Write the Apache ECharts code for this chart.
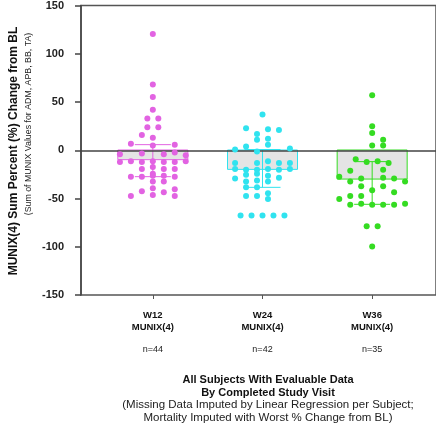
<!DOCTYPE html>
<html>
<head>
<meta charset="utf-8">
<script src="https://cdn.jsdelivr.net/npm/echarts@6/dist/echarts.min.js"></script>
<style>
html, body { margin: 0; padding: 0; background: #fff; }
#container { width: 436px; height: 433px; }
</style>
</head>
<body>
<div id="container"></div>
<script>
// visits and summary (median bar, interquartile whisker)
const visits = ['W12', 'W24', 'W36']
const measure = 'MUNIX(4)'
const nCounts = [44, 42, 35]
const medians = [-11, -21, -31]
const upperQ = [5, 0, -12.5]
const lowerQ = [-28, -39, -56.5]

// individual subjects, % change from BL; slots = swarm column
const w12Values = [119, 67, 54, 41, 32, 32, 23, 23, 15, 12, 6, 4, 5, -5, -4, -5, -3, -6,
    -13, -12, -13, -12, -13, -13, -12, -20, -18, -20, -20, -25, -28, -28, -27, -27, -28,
    -33, -33, -43, -40, -44, -41, -48, -47, -48]
const w12Slots = [0, 0, 0, 0, -0.5, 0.5, -0.5, 0.5, -1, 0, -2, 0, 2, -3, -1, 1, 2, 3,
    -3, -2, -1, 0, 1, 2, 3, -1, 0, 1, 2, 0, -2, -1, 0, 1, 2,
    0, 1, -1, 0, 1, 2, -2, 0, 2]

const w24Values = [36, 22, 21, 20, 16, 11, 10, 5, 3, 1, 0, -2,
    -14, -14, -12, -14, -14, -20, -21, -21, -20, -21, -20,
    -26, -25, -27, -29, -30, -33, -32, -33, -39, -39, -48, -48, -45, -51,
    -68, -68, -68, -68, -68]
const w24Slots = [0, -1.5, 0.5, 1.5, -0.5, 0.5, -0.5, 0.5, -1.5, 2.5, -2.5, -0.5,
    -2.5, -0.5, 0.5, 1.5, 2.5, -2.5, -1.5, -0.5, 0.5, 1.5, 2.5,
    -1.5, -0.5, 0.5, 1.5, -2.5, -1.5, -0.5, 0.5, -1.5, -0.5, -1.5, -0.5, 0.5, 0.5,
    -2, -1, 0, 1, 2]

const w36Values = [56, 24, 17, 10, 4, 4, -10, -13, -12, -14, -22, -21,
    -28, -33, -30, -29, -30, -33, -38, -38, -42, -44, -51, -48, -48,
    -57, -56, -57, -57, -57, -56, -79, -79, -100]
const w36Slots = [0, 0, 0, 1, 0, 1, -1.5, -0.5, 0.5, 1.5, -2, 1,
    -3, -2, -1, 1, 2, 3, -1, 1, 0, 2, -3, -2, -1,
    -2, -1, 0, 1, 2, 3, -0.5, 0.5, 0]

const groupValues = [w12Values, w24Values, w36Values]
const groupSlots = [w12Slots, w24Slots, w36Slots]
const colors = ['#e263e2', '#30e3ef', '#35dc22']
const font = 'Liberation Sans, Arial, sans-serif'
const slotWidth = 0.1

let mychart = echarts.init(document.getElementById('container'))

let scatterSeries = groupValues.map((vals, i) => ({
    type: 'scatter',
    xAxisIndex: 2,
    yAxisIndex: 1,
    symbolSize: 6,
    z: 5,
    itemStyle: { color: colors[i], opacity: 1 },
    data: vals.map((v, k) => [i + groupSlots[i][k] * slotWidth, v])
}))

let options = {
    animation: false,
    textStyle: { fontFamily: font },
    title: {
        text: 'All Subjects With Evaluable Data\nBy Completed Study Visit',
        subtext: '(Missing Data Imputed by Linear Regression per Subject;\nMortality Imputed with Worst % Change from BL)',
        left: 263,
        top: 369,
        textAlign: 'center',
        itemGap: 0,
        textStyle: { fontSize: 11, fontWeight: 'bold', lineHeight: 12.5, color: '#111', fontFamily: font },
        subtextStyle: { fontSize: 11.5, lineHeight: 12.5, color: '#222', fontFamily: font }
    },
    grid: [
        { left: 81, right: -2, top: 4, bottom: 138, show: true, borderColor: '#555', borderWidth: 1.5, backgroundColor: 'transparent' },
        { left: 98, right: 9, top: 4, bottom: 138 }
    ],
    xAxis: [
        {
            type: 'value', gridIndex: 0, min: 0, max: 1, z: 3,
            axisLine: { onZero: true, lineStyle: { color: '#444', width: 1.5 } },
            axisTick: { show: false }, axisLabel: { show: false }, splitLine: { show: false }
        },
        {
            type: 'category', gridIndex: 1, data: visits,
            axisLine: { show: false, onZero: false },
            axisTick: { show: true, alignWithLabel: true, length: 4, lineStyle: { color: '#555', width: 1 } },
            axisLabel: {
                margin: 14,
                formatter: (v, i) => `{b|${v}}\n{b|${measure}}\n{n|n=${nCounts[i]}}`,
                rich: {
                    b: { fontWeight: 'bold', fontSize: 9.5, lineHeight: 12, color: '#111', fontFamily: font },
                    n: { fontSize: 9, lineHeight: 34, color: '#222', fontFamily: font }
                }
            }
        },
        { type: 'value', gridIndex: 1, min: -0.5, max: 2.5, show: false }
    ],
    yAxis: [
        {
            type: 'value', gridIndex: 0, min: -150, max: 150, interval: 50,
            axisLine: { show: true, lineStyle: { color: '#444', width: 1.5 } },
            axisTick: { show: true, length: 6, lineStyle: { color: '#444', width: 1.5 } },
            axisLabel: { fontWeight: 'bold', fontSize: 11, color: '#222', margin: 17, fontFamily: font },
            splitLine: { show: false }
        },
        { type: 'value', gridIndex: 1, min: -150, max: 150, show: false }
    ],
    graphic: [
        {
            type: 'text', x: 14, y: 151, rotation: Math.PI / 2,
            style: {
                text: 'MUNIX(4) Sum Percent (%) Change from BL',
                font: 'bold 12px ' + font, fill: '#111',
                align: 'center', verticalAlign: 'middle', textAlign: 'center', textVerticalAlign: 'middle'
            }
        },
        {
            type: 'text', x: 29, y: 124, rotation: Math.PI / 2,
            style: {
                text: '(Sum of MUNIX Values for ADM, APB, BB, TA)',
                font: '8.8px ' + font, fill: '#222',
                align: 'center', verticalAlign: 'middle', textAlign: 'center', textVerticalAlign: 'middle'
            }
        }
    ],
    series: [
        {
            type: 'bar',
            xAxisIndex: 1,
            yAxisIndex: 1,
            barWidth: 71,
            z: 1,
            data: medians.map((m, i) => ({
                value: m,
                itemStyle: { color: '#e4e4e4', borderColor: colors[i], borderWidth: 1 }
            }))
        },
        {
            type: 'custom',
            xAxisIndex: 1,
            yAxisIndex: 1,
            z: 2,
            data: visits.map((v, i) => [i, lowerQ[i], upperQ[i]]),
            renderItem: (params, api) => {
                let lo = api.coord([api.value(0), api.value(1)])
                let hi = api.coord([api.value(0), api.value(2)])
                let half = 18
                let style = { stroke: colors[params.dataIndex], lineWidth: 1 }
                return {
                    type: 'group',
                    children: [
                        { type: 'line', shape: { x1: lo[0], y1: lo[1], x2: hi[0], y2: hi[1] }, style },
                        { type: 'line', shape: { x1: lo[0] - half, y1: lo[1], x2: lo[0] + half, y2: lo[1] }, style },
                        { type: 'line', shape: { x1: hi[0] - half, y1: hi[1], x2: hi[0] + half, y2: hi[1] }, style }
                    ]
                }
            }
        },
        ...scatterSeries
    ]
}

mychart.setOption(options)
window.addEventListener('resize', () => { mychart.resize() })
</script>
</body>
</html>
